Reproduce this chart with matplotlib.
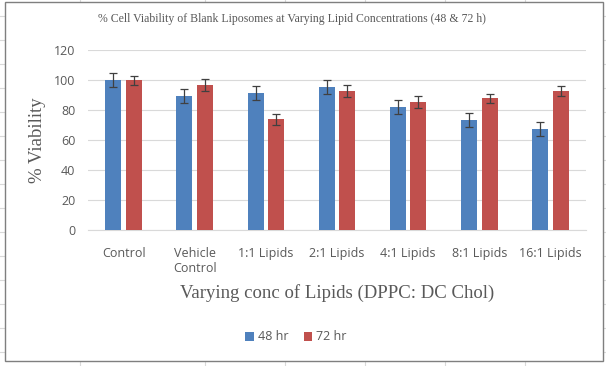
import numpy as np
import matplotlib
matplotlib.use("Agg")
import matplotlib.pyplot as plt
from matplotlib.patches import Rectangle
from matplotlib.lines import Line2D

# data
categories = ["Control", "Vehicle\nControl", "1:1 Lipids", "2:1 Lipids",
              "4:1 Lipids", "8:1 Lipids", "16:1 Lipids"]
v48 = [100, 89.3, 91.3, 95.3, 82, 73.3, 67.3]
e48 = [4.5, 4.5, 4.5, 4.5, 4.5, 4.7, 4.5]
v72 = [100, 96.7, 73.8, 92.7, 85.3, 88, 92.7]
e72 = [3.0, 3.7, 3.5, 3.7, 4.0, 3.0, 3.3]
yticks = [0, 20, 40, 60, 80, 100, 120]

blue = "#4f81bd"
red = "#c0504d"
grey_txt = "#595959"

W, H = 606, 366
fig = plt.figure(figsize=(W / 100, H / 100), dpi=100)

# spreadsheet cell lines behind the chart object
for gx in [80, 205, 285, 365, 445, 525]:
    fig.add_artist(Line2D([gx / W, gx / W], [0, 1], color="#d9d9d9", lw=0.8, zorder=0))
for gy in range(16, H, 24):
    fig.add_artist(Line2D([0, 1], [1 - gy / H, 1 - gy / H], color="#d9d9d9", lw=0.8, zorder=0))
# chart area
fig.add_artist(Rectangle((5 / W, 1 - 361 / H), 598 / W, 359 / H, facecolor="white",
                         edgecolor="#7f7f7f", lw=1.0, zorder=1))

ax = fig.add_axes([88 / W, 1 - 230 / H, 498 / W, 180 / H], zorder=2)
ax.patch.set_alpha(0)

x = np.arange(len(categories))
bw = 0.225
ekw = dict(ecolor="#404040", elinewidth=0.9, capsize=3, capthick=0.9)
ax.bar(x - 0.145, v48, bw, color=blue, yerr=e48, error_kw=ekw, label="48 hr", zorder=3)
ax.bar(x + 0.145, v72, bw, color=red, yerr=e72, error_kw=ekw, label="72 hr", zorder=3)

ax.set_xlim(-0.5, len(categories) - 0.5)
ax.set_ylim(0, 120)
ax.set_yticks(yticks)
ax.set_xticks(x)
ax.set_xticklabels(categories, fontsize=9, color=grey_txt, family="Open Sans", linespacing=1.25)
ax.set_yticklabels([str(t) for t in yticks], fontsize=9, color=grey_txt, family="Open Sans")
ax.tick_params(length=0, pad=9)
ax.tick_params(axis="x", pad=12)
ax.grid(axis="y", color="#d9d9d9", lw=0.8, zorder=0)
for s in ["top", "right", "left"]:
    ax.spines[s].set_visible(False)
ax.spines["bottom"].set_color("#d9d9d9")

fig.text(292 / W, 1 - 19 / H,
         "% Cell Viability of Blank Liposomes at Varying Lipid Concentrations (48 & 72 h)",
         ha="center", va="center", fontsize=8.5, family="Liberation Serif", color=grey_txt)
fig.text(37 / W, 1 - 140 / H, "% Viability", rotation=90, ha="center", va="center",
         fontsize=13.5, family="Liberation Serif", color=grey_txt)
fig.text(337 / W, 1 - 293 / H, "Varying conc of Lipids (DPPC: DC Chol)", ha="center",
         va="center", fontsize=13.5, family="Liberation Serif", color=grey_txt)

fig.legend(loc="center", bbox_to_anchor=(296 / W, 1 - 337 / H), ncol=2, frameon=False,
           prop={"family": "Open Sans", "size": 9}, labelcolor=grey_txt,
           handlelength=0.7, handleheight=0.7, handletextpad=0.3, columnspacing=1.2)

fig.savefig("out.png", dpi=100)
